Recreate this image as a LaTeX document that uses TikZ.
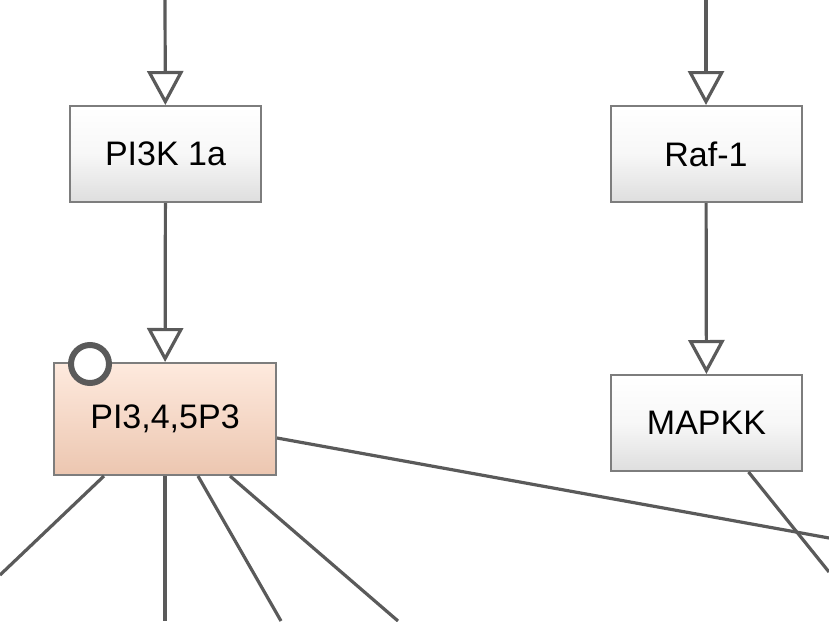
\documentclass[tikz,border=0pt]{standalone}
\usepackage{fontspec}
\setmainfont{Liberation Sans}
\usetikzlibrary{arrows.meta,positioning,calc}
\definecolor{edgegrey}{RGB}{90,90,90}
\definecolor{boxborder}{RGB}{125,125,125}
\definecolor{boxbottom}{RGB}{222,222,222}
\definecolor{lipidtop}{RGB}{254,234,222}
\definecolor{lipidbottom}{RGB}{236,198,176}

\begin{document}
\begin{tikzpicture}[
  x=1pt, y=-1pt,
  activates/.style={
    -{Triangle[open,length=34pt,width=36pt]},
    line width=3.2pt,
    draw=edgegrey
  },
  link/.style={
    line width=3.2pt,
    draw=edgegrey
  },
  protein/.style={
    draw=boxborder,
    line width=2pt,
    top color=white,
    bottom color=boxbottom,
    middle color=white!97!black,
    minimum width=191pt,
    minimum height=96pt,
    inner sep=0pt,
    font=\fontsize{34}{40}\selectfont
  },
  lipid/.style={
    protein,
    top color=lipidtop,
    middle color=lipidtop!85!lipidbottom,
    bottom color=lipidbottom,
    minimum width=222pt,
    minimum height=112pt
  }
]

  \useasboundingbox (0,0) rectangle (829,621);

  % Nodes
  \node[protein] (pik) at (165.5,154) {PI3K 1a};
  \node[protein] (raf) at (706,154) {Raf-1};
  \node[lipid] (pip) at (165,419) {PI3,4,5P3};
  \node[protein] (mapkk) at (706.5,423) {MAPKK};

  % State marker on the lipid
  \node[circle, draw=edgegrey, fill=white, line width=6pt, minimum size=38pt, inner sep=0pt] (state) at (90,364) {};

  % Free ends
  \coordinate (pikin) at (165,0);
  \coordinate (rafin) at (706,0);
  \coordinate (out1) at (0,575);
  \coordinate (out2) at (165,621);
  \coordinate (out3) at (281,621);
  \coordinate (out4) at (398,621);
  \coordinate (out5) at (829,538);
  \coordinate (out6) at (829,572);

  % Activations
  \draw[activates] (pikin) -- (pik);
  \draw[activates] (rafin) -- (raf);
  \draw[activates] (pik) -- (pip);
  \draw[activates] (raf) -- (mapkk);

  % Outgoing links
  \draw[link] ($(pip.south)+(-61,0)$) -- (out1);
  \draw[link] (pip.south) -- (out2);
  \draw[link] ($(pip.south)+(33,0)$) -- (out3);
  \draw[link] ($(pip.south)+(65,0)$) -- (out4);
  \draw[link] ($(pip.east)+(0,19)$) -- (out5);
  \draw[link] ($(mapkk.south)+(42,0)$) -- (out6);

\end{tikzpicture}
\end{document}
